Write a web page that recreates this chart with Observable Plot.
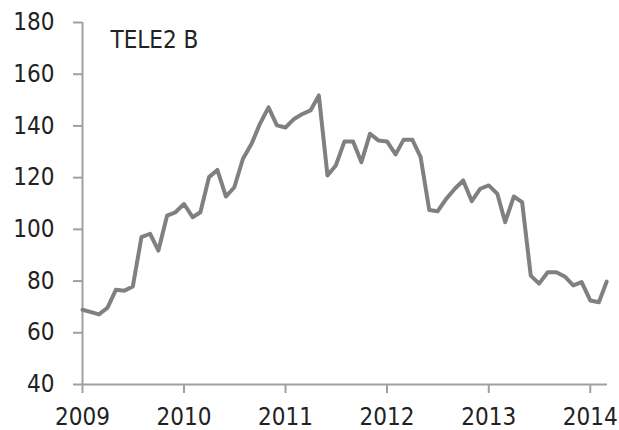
<!DOCTYPE html>
<html>
<head>
<meta charset="utf-8">
<script src="https://cdn.jsdelivr.net/npm/d3@7"></script>
<script src="https://cdn.jsdelivr.net/npm/@observablehq/plot@0.6"></script>
<style>
  html, body { margin: 0; padding: 0; background: #fff; }
  #chart svg { display: block; }
</style>
</head>
<body>
<div id="chart"></div>
<script>
const title = "TELE2 B";
const months = [
  "2009-01","2009-02","2009-03","2009-04","2009-05","2009-06","2009-07","2009-08","2009-09","2009-10","2009-11","2009-12",
  "2010-01","2010-02","2010-03","2010-04","2010-05","2010-06","2010-07","2010-08","2010-09","2010-10","2010-11","2010-12",
  "2011-01","2011-02","2011-03","2011-04","2011-05","2011-06","2011-07","2011-08","2011-09","2011-10","2011-11","2011-12",
  "2012-01","2012-02","2012-03","2012-04","2012-05","2012-06","2012-07","2012-08","2012-09","2012-10","2012-11","2012-12",
  "2013-01","2013-02","2013-03","2013-04","2013-05","2013-06","2013-07","2013-08","2013-09","2013-10","2013-11","2013-12",
  "2014-01","2014-02","2014-03"
];
const prices = [
  68.9, 68.0, 67.1, 69.7, 76.6, 76.3, 77.9, 97.0, 98.3, 91.8, 105.3, 106.6,
  109.8, 104.7, 106.6, 120.2, 123.0, 112.7, 116.3, 127.3, 133.1, 140.8, 147.2, 140.2,
  139.4, 142.7, 144.5, 146.0, 151.8, 120.8, 124.7, 134.0, 134.0, 126.0, 137.0, 134.4,
  134.0, 129.0, 134.7, 134.7, 127.9, 107.5, 107.0, 111.8, 115.7, 118.9, 110.9, 115.7,
  117.0, 113.7, 102.8, 112.7, 110.5, 82.1, 79.0, 83.4, 83.4, 81.8, 78.3, 79.6,
  72.5, 71.8, 79.8
];
const yTicks = [40, 60, 80, 100, 120, 140, 160, 180];
const xTickYears = ["2009","2010","2011","2012","2013","2014"];
const xStart = "2009-01-01";
const xEnd = "2014-03-04";

const data = months.map((m, i) => ({date: new Date(m + "-01T00:00:00Z"), value: prices[i]}));
const xTicks = xTickYears.map(y => new Date(y + "-01-01T00:00:00Z"));

const axisColor = "#a0a0a0";
const textColor = "#222";

const chart = Plot.plot({
  width: 619,
  height: 430,
  marginLeft: 82,
  marginRight: 12,
  marginTop: 22,
  marginBottom: 46,
  style: {
    fontFamily: "'DejaVu Sans Condensed', 'DejaVu Sans', sans-serif",
    fontStretch: "condensed",
    fontSize: "24px",
    color: textColor,
    background: "#fff"
  },
  x: {type: "utc", domain: [new Date(xStart + "T00:00:00Z"), new Date(xEnd + "T00:00:00Z")]},
  y: {domain: [40, 180]},
  marks: [
    Plot.axisY({ticks: yTicks, tickSize: 9, tickPadding: 19, stroke: axisColor, strokeWidth: 2, fill: textColor, label: null}),
    Plot.axisX({ticks: xTicks, tickFormat: d3.utcFormat("%Y"), tickSize: 9, tickPadding: 14, stroke: axisColor, strokeWidth: 2, fill: textColor, label: null}),
    Plot.ruleX([new Date(xStart + "T00:00:00Z")], {stroke: axisColor, strokeWidth: 2}),
    Plot.ruleY([40], {stroke: axisColor, strokeWidth: 2}),
    Plot.line(data, {x: "date", y: "value", stroke: "#808080", strokeWidth: 4}),
    Plot.text([title], {frameAnchor: "top-left", dx: 28, dy: 8, textAnchor: "start", lineAnchor: "top", fontSize: 24, fill: textColor})
  ]
});
document.getElementById("chart").appendChild(chart);
</script>
</body>
</html>
